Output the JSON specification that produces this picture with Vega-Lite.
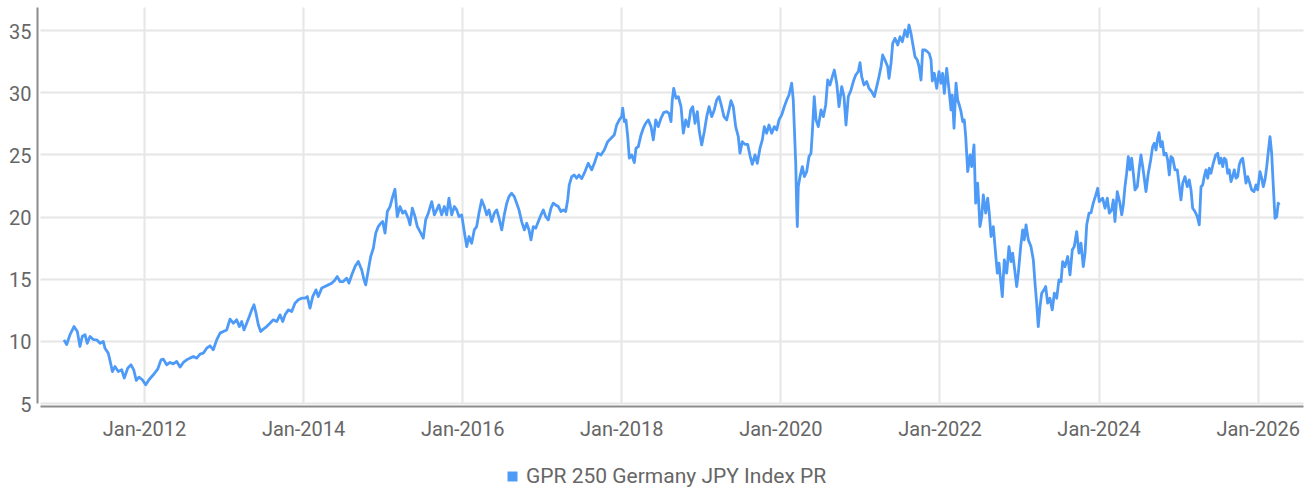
{
  "$schema": "https://vega.github.io/schema/vega-lite/v6.json",
  "width": 1263,
  "height": 396,
  "autosize": "none",
  "padding": {"left": 40, "top": 7, "right": 9, "bottom": 88},
  "background": "#ffffff",
  "config": {
    "view": {"stroke": null},
    "font": "Roboto",
    "axis": {"labelFont": "Roboto", "labelColor": "#666666", "labelFontSize": 20, "gridColor": "#e6e6e6", "gridWidth": 2, "domainColor": "#8c8c8c", "domainWidth": 2, "ticks": false, "title": null},
    "legend": {"labelFont": "Roboto", "labelColor": "#666666", "labelFontSize": 21}
  },
  "data": {"values": [
    {"t":2010.994,"v":10.08},{"t":2011.028,"v":9.7},{"t":2011.070,"v":10.5},{"t":2011.120,"v":11.15},{"t":2011.162,"v":10.75},{"t":2011.195,"v":9.55},{"t":2011.224,"v":10.35},{"t":2011.258,"v":10.5},{"t":2011.287,"v":9.8},{"t":2011.321,"v":10.35},{"t":2011.363,"v":10.1},{"t":2011.405,"v":10.08},{"t":2011.447,"v":9.8},{"t":2011.488,"v":9.95},{"t":2011.510,"v":9.4},{"t":2011.551,"v":9.0},{"t":2011.585,"v":8.07},{"t":2011.602,"v":7.53},{"t":2011.635,"v":7.93},{"t":2011.677,"v":7.53},{"t":2011.720,"v":7.67},{"t":2011.752,"v":7.0},{"t":2011.795,"v":7.8},{"t":2011.837,"v":8.07},{"t":2011.871,"v":7.67},{"t":2011.903,"v":6.81},{"t":2011.937,"v":7.08},{"t":2011.979,"v":6.87},
    {"t":2012.021,"v":6.46},{"t":2012.063,"v":6.87},{"t":2012.117,"v":7.27},{"t":2012.172,"v":7.72},{"t":2012.214,"v":8.47},{"t":2012.243,"v":8.53},{"t":2012.285,"v":8.07},{"t":2012.327,"v":8.26},{"t":2012.368,"v":8.15},{"t":2012.411,"v":8.34},{"t":2012.453,"v":7.89},{"t":2012.494,"v":8.26},{"t":2012.537,"v":8.47},{"t":2012.578,"v":8.61},{"t":2012.620,"v":8.74},{"t":2012.663,"v":8.61},{"t":2012.704,"v":8.93},{"t":2012.746,"v":9.01},{"t":2012.788,"v":9.41},{"t":2012.830,"v":9.6},{"t":2012.871,"v":9.28},{"t":2012.914,"v":10.08},{"t":2012.956,"v":10.62},{"t":2012.997,"v":10.75},
    {"t":2013.040,"v":10.88},{"t":2013.081,"v":11.75},{"t":2013.123,"v":11.42},{"t":2013.165,"v":11.69},{"t":2013.198,"v":11.15},{"t":2013.228,"v":11.55},{"t":2013.257,"v":10.88},{"t":2013.291,"v":11.42},{"t":2013.324,"v":11.96},{"t":2013.354,"v":12.49},{"t":2013.383,"v":12.9},{"t":2013.408,"v":12.23},{"t":2013.437,"v":11.29},{"t":2013.467,"v":10.75},{"t":2013.500,"v":10.94},{"t":2013.542,"v":11.15},{"t":2013.584,"v":11.42},{"t":2013.625,"v":11.69},{"t":2013.668,"v":11.55},{"t":2013.710,"v":12.09},{"t":2013.744,"v":11.55},{"t":2013.773,"v":12.09},{"t":2013.814,"v":12.49},{"t":2013.857,"v":12.36},{"t":2013.898,"v":13.03},{"t":2013.940,"v":13.3},{"t":2013.982,"v":13.43},
    {"t":2014.024,"v":13.43},{"t":2014.053,"v":13.56},{"t":2014.087,"v":12.63},{"t":2014.121,"v":13.56},{"t":2014.162,"v":14.1},{"t":2014.191,"v":13.56},{"t":2014.234,"v":14.24},{"t":2014.275,"v":14.37},{"t":2014.317,"v":14.5},{"t":2014.360,"v":14.64},{"t":2014.401,"v":14.9},{"t":2014.430,"v":15.17},{"t":2014.464,"v":14.77},{"t":2014.505,"v":14.77},{"t":2014.548,"v":15.04},{"t":2014.577,"v":14.64},{"t":2014.611,"v":15.3},{"t":2014.653,"v":15.97},{"t":2014.694,"v":16.38},{"t":2014.737,"v":15.7},{"t":2014.766,"v":14.9},{"t":2014.787,"v":14.5},{"t":2014.820,"v":15.7},{"t":2014.850,"v":16.78},{"t":2014.883,"v":17.45},{"t":2014.913,"v":18.66},{"t":2014.945,"v":19.19},{"t":2014.976,"v":19.46},
    {"t":2015.001,"v":19.59},{"t":2015.030,"v":18.66},{"t":2015.059,"v":20.4},{"t":2015.093,"v":20.8},{"t":2015.126,"v":21.6},{"t":2015.155,"v":22.19},{"t":2015.184,"v":19.99},{"t":2015.218,"v":20.8},{"t":2015.252,"v":20.27},{"t":2015.281,"v":20.45},{"t":2015.322,"v":19.86},{"t":2015.344,"v":19.33},{"t":2015.373,"v":20.67},{"t":2015.407,"v":19.99},{"t":2015.436,"v":19.19},{"t":2015.470,"v":18.79},{"t":2015.511,"v":18.26},{"t":2015.541,"v":19.73},{"t":2015.574,"v":20.27},{"t":2015.617,"v":21.2},{"t":2015.650,"v":20.13},{"t":2015.680,"v":20.53},{"t":2015.708,"v":20.93},{"t":2015.742,"v":20.13},{"t":2015.775,"v":20.8},{"t":2015.805,"v":20.13},{"t":2015.834,"v":21.47},{"t":2015.868,"v":20.13},{"t":2015.901,"v":20.8},{"t":2015.931,"v":20.53},{"t":2015.960,"v":19.99},{"t":2015.994,"v":20.13},
    {"t":2016.026,"v":18.79},{"t":2016.057,"v":17.58},{"t":2016.086,"v":18.39},{"t":2016.119,"v":17.85},{"t":2016.152,"v":18.92},{"t":2016.182,"v":19.19},{"t":2016.211,"v":20.27},{"t":2016.245,"v":21.33},{"t":2016.278,"v":20.8},{"t":2016.308,"v":20.13},{"t":2016.337,"v":20.53},{"t":2016.371,"v":19.59},{"t":2016.404,"v":20.27},{"t":2016.434,"v":20.53},{"t":2016.463,"v":19.86},{"t":2016.497,"v":18.92},{"t":2016.529,"v":20.13},{"t":2016.560,"v":21.07},{"t":2016.588,"v":21.6},{"t":2016.622,"v":21.87},{"t":2016.655,"v":21.6},{"t":2016.685,"v":21.07},{"t":2016.714,"v":20.53},{"t":2016.748,"v":19.59},{"t":2016.781,"v":18.92},{"t":2016.811,"v":19.46},{"t":2016.840,"v":18.92},{"t":2016.865,"v":18.12},{"t":2016.894,"v":19.19},{"t":2016.924,"v":19.06},{"t":2016.957,"v":19.59},{"t":2016.991,"v":20.13},
    {"t":2017.020,"v":20.53},{"t":2017.050,"v":19.99},{"t":2017.082,"v":19.73},{"t":2017.116,"v":20.67},{"t":2017.145,"v":21.07},{"t":2017.175,"v":20.93},{"t":2017.208,"v":20.8},{"t":2017.242,"v":20.4},{"t":2017.271,"v":20.53},{"t":2017.301,"v":20.4},{"t":2017.326,"v":21.33},{"t":2017.346,"v":22.54},{"t":2017.377,"v":23.21},{"t":2017.409,"v":23.34},{"t":2017.439,"v":23.08},{"t":2017.468,"v":23.34},{"t":2017.502,"v":23.05},{"t":2017.535,"v":23.48},{"t":2017.585,"v":24.28},{"t":2017.628,"v":23.75},{"t":2017.661,"v":24.28},{"t":2017.704,"v":25.09},{"t":2017.745,"v":24.95},{"t":2017.786,"v":25.35},{"t":2017.829,"v":26.02},{"t":2017.871,"v":26.29},{"t":2017.912,"v":26.56},{"t":2017.942,"v":27.36},{"t":2017.975,"v":27.77},
    {"t":2018.005,"v":28.03},{"t":2018.018,"v":28.71},{"t":2018.038,"v":27.63},{"t":2018.059,"v":27.77},{"t":2018.081,"v":26.42},{"t":2018.101,"v":24.69},{"t":2018.131,"v":24.95},{"t":2018.164,"v":24.33},{"t":2018.185,"v":25.49},{"t":2018.214,"v":25.62},{"t":2018.248,"v":26.56},{"t":2018.277,"v":27.1},{"t":2018.307,"v":27.5},{"t":2018.340,"v":27.77},{"t":2018.374,"v":27.23},{"t":2018.403,"v":26.16},{"t":2018.433,"v":27.77},{"t":2018.465,"v":27.23},{"t":2018.499,"v":27.9},{"t":2018.533,"v":28.35},{"t":2018.571,"v":28.43},{"t":2018.600,"v":28.3},{"t":2018.625,"v":27.63},{"t":2018.641,"v":29.37},{"t":2018.659,"v":30.31},{"t":2018.688,"v":29.51},{"t":2018.717,"v":29.64},{"t":2018.751,"v":28.83},{"t":2018.780,"v":26.7},{"t":2018.810,"v":27.77},{"t":2018.842,"v":27.23},{"t":2018.873,"v":28.57},{"t":2018.898,"v":28.83},{"t":2018.927,"v":27.5},{"t":2018.956,"v":28.43},{"t":2018.981,"v":26.83},
    {"t":2019.011,"v":25.76},{"t":2019.044,"v":26.83},{"t":2019.074,"v":28.03},{"t":2019.103,"v":28.83},{"t":2019.137,"v":28.03},{"t":2019.169,"v":28.57},{"t":2019.199,"v":29.37},{"t":2019.228,"v":29.64},{"t":2019.262,"v":28.83},{"t":2019.291,"v":28.03},{"t":2019.325,"v":27.77},{"t":2019.354,"v":28.57},{"t":2019.379,"v":29.32},{"t":2019.408,"v":28.83},{"t":2019.438,"v":27.23},{"t":2019.471,"v":26.42},{"t":2019.492,"v":25.09},{"t":2019.521,"v":26.02},{"t":2019.555,"v":25.8},{"t":2019.589,"v":25.8},{"t":2019.618,"v":24.9},{"t":2019.647,"v":24.2},{"t":2019.681,"v":24.95},{"t":2019.710,"v":24.28},{"t":2019.744,"v":25.49},{"t":2019.773,"v":26.16},{"t":2019.798,"v":27.23},{"t":2019.828,"v":26.7},{"t":2019.857,"v":27.36},{"t":2019.891,"v":26.7},{"t":2019.924,"v":27.23},{"t":2019.954,"v":26.96},{"t":2019.983,"v":27.77},
    {"t":2020.017,"v":28.17},{"t":2020.049,"v":28.83},{"t":2020.080,"v":29.37},{"t":2020.108,"v":29.77},{"t":2020.142,"v":30.72},{"t":2020.162,"v":29.37},{"t":2020.175,"v":27.23},{"t":2020.193,"v":24.28},{"t":2020.205,"v":20.8},{"t":2020.213,"v":19.19},{"t":2020.225,"v":22.4},{"t":2020.247,"v":23.21},{"t":2020.276,"v":24.01},{"t":2020.301,"v":23.21},{"t":2020.331,"v":23.61},{"t":2020.360,"v":24.82},{"t":2020.385,"v":25.09},{"t":2020.401,"v":26.7},{"t":2020.426,"v":29.64},{"t":2020.448,"v":27.77},{"t":2020.477,"v":27.23},{"t":2020.511,"v":28.57},{"t":2020.540,"v":28.03},{"t":2020.570,"v":28.97},{"t":2020.595,"v":30.98},{"t":2020.624,"v":30.58},{"t":2020.653,"v":31.25},{"t":2020.678,"v":31.78},{"t":2020.708,"v":30.72},{"t":2020.737,"v":28.83},{"t":2020.771,"v":30.45},{"t":2020.800,"v":29.64},{"t":2020.825,"v":27.36},{"t":2020.854,"v":29.64},{"t":2020.888,"v":30.18},{"t":2020.917,"v":30.85},{"t":2020.947,"v":31.38},{"t":2020.979,"v":31.65},
    {"t":2021.001,"v":32.37},{"t":2021.022,"v":31.25},{"t":2021.051,"v":30.58},{"t":2021.085,"v":30.85},{"t":2021.114,"v":30.31},{"t":2021.148,"v":30.04},{"t":2021.181,"v":29.64},{"t":2021.211,"v":30.45},{"t":2021.240,"v":31.25},{"t":2021.265,"v":32.05},{"t":2021.286,"v":32.99},{"t":2021.315,"v":32.59},{"t":2021.349,"v":32.05},{"t":2021.366,"v":31.12},{"t":2021.391,"v":32.32},{"t":2021.412,"v":33.93},{"t":2021.441,"v":34.33},{"t":2021.475,"v":33.79},{"t":2021.504,"v":34.46},{"t":2021.533,"v":34.06},{"t":2021.567,"v":35.0},{"t":2021.595,"v":34.46},{"t":2021.617,"v":35.4},{"t":2021.642,"v":34.73},{"t":2021.663,"v":33.93},{"t":2021.692,"v":32.86},{"t":2021.721,"v":32.59},{"t":2021.743,"v":32.05},{"t":2021.768,"v":30.98},{"t":2021.789,"v":33.39},{"t":2021.818,"v":33.4},{"t":2021.847,"v":33.26},{"t":2021.872,"v":33.1},{"t":2021.894,"v":32.59},{"t":2021.910,"v":30.9},{"t":2021.935,"v":31.52},{"t":2021.965,"v":30.31},{"t":2021.994,"v":31.65},
    {"t":2022.019,"v":30.72},{"t":2022.040,"v":31.52},{"t":2022.061,"v":29.91},{"t":2022.091,"v":31.92},{"t":2022.120,"v":30.18},{"t":2022.145,"v":28.57},{"t":2022.161,"v":29.77},{"t":2022.183,"v":27.1},{"t":2022.208,"v":30.72},{"t":2022.229,"v":29.37},{"t":2022.249,"v":28.97},{"t":2022.271,"v":28.43},{"t":2022.292,"v":27.63},{"t":2022.312,"v":27.77},{"t":2022.330,"v":26.42},{"t":2022.355,"v":23.61},{"t":2022.384,"v":24.95},{"t":2022.405,"v":24.01},{"t":2022.434,"v":25.76},{"t":2022.455,"v":21.07},{"t":2022.480,"v":22.68},{"t":2022.509,"v":19.19},{"t":2022.531,"v":19.99},{"t":2022.551,"v":21.74},{"t":2022.581,"v":20.27},{"t":2022.606,"v":21.47},{"t":2022.626,"v":20.27},{"t":2022.648,"v":18.39},{"t":2022.677,"v":19.19},{"t":2022.698,"v":17.58},{"t":2022.727,"v":15.44},{"t":2022.748,"v":16.25},{"t":2022.773,"v":14.64},{"t":2022.790,"v":13.56},{"t":2022.815,"v":16.51},{"t":2022.845,"v":15.44},{"t":2022.874,"v":17.58},{"t":2022.899,"v":16.37},{"t":2022.920,"v":17.05},{"t":2022.941,"v":15.97},{"t":2022.971,"v":14.37},{"t":2022.991,"v":15.44},
    {"t":2023.021,"v":17.58},{"t":2023.046,"v":18.92},{"t":2023.066,"v":18.12},{"t":2023.088,"v":19.33},{"t":2023.117,"v":18.12},{"t":2023.150,"v":17.58},{"t":2023.180,"v":16.51},{"t":2023.201,"v":14.64},{"t":2023.222,"v":13.03},{"t":2023.242,"v":11.15},{"t":2023.264,"v":12.76},{"t":2023.285,"v":13.83},{"t":2023.314,"v":14.1},{"t":2023.335,"v":14.37},{"t":2023.360,"v":13.03},{"t":2023.389,"v":13.43},{"t":2023.418,"v":12.49},{"t":2023.444,"v":13.83},{"t":2023.474,"v":13.43},{"t":2023.502,"v":14.9},{"t":2023.528,"v":14.77},{"t":2023.549,"v":16.37},{"t":2023.578,"v":15.97},{"t":2023.612,"v":16.78},{"t":2023.641,"v":15.3},{"t":2023.670,"v":17.32},{"t":2023.695,"v":17.58},{"t":2023.725,"v":18.79},{"t":2023.754,"v":17.05},{"t":2023.779,"v":17.85},{"t":2023.808,"v":15.97},{"t":2023.830,"v":17.05},{"t":2023.851,"v":19.33},{"t":2023.880,"v":20.27},{"t":2023.905,"v":20.3},{"t":2023.934,"v":21.1},{"t":2023.964,"v":21.7},{"t":2023.989,"v":22.27},
    {"t":2024.009,"v":21.2},{"t":2024.052,"v":21.47},{"t":2024.081,"v":20.67},{"t":2024.110,"v":21.47},{"t":2024.135,"v":20.27},{"t":2024.165,"v":20.53},{"t":2024.185,"v":21.33},{"t":2024.206,"v":19.6},{"t":2024.235,"v":22.0},{"t":2024.269,"v":21.07},{"t":2024.291,"v":20.13},{"t":2024.311,"v":20.93},{"t":2024.332,"v":22.4},{"t":2024.353,"v":23.48},{"t":2024.374,"v":24.82},{"t":2024.395,"v":23.75},{"t":2024.416,"v":24.69},{"t":2024.437,"v":23.48},{"t":2024.458,"v":22.14},{"t":2024.487,"v":22.4},{"t":2024.512,"v":23.88},{"t":2024.533,"v":24.95},{"t":2024.555,"v":24.01},{"t":2024.575,"v":23.08},{"t":2024.596,"v":22.0},{"t":2024.625,"v":23.48},{"t":2024.655,"v":24.55},{"t":2024.680,"v":25.62},{"t":2024.700,"v":25.89},{"t":2024.722,"v":25.35},{"t":2024.743,"v":26.29},{"t":2024.760,"v":26.74},{"t":2024.781,"v":25.62},{"t":2024.801,"v":26.02},{"t":2024.823,"v":24.95},{"t":2024.848,"v":25.09},{"t":2024.869,"v":24.55},{"t":2024.889,"v":23.34},{"t":2024.910,"v":24.82},{"t":2024.932,"v":24.69},{"t":2024.961,"v":23.75},{"t":2024.990,"v":23.75},
    {"t":2025.015,"v":22.4},{"t":2025.036,"v":21.33},{"t":2025.058,"v":22.68},{"t":2025.086,"v":23.21},{"t":2025.115,"v":22.4},{"t":2025.140,"v":22.94},{"t":2025.162,"v":22.14},{"t":2025.183,"v":20.67},{"t":2025.212,"v":20.4},{"t":2025.241,"v":19.99},{"t":2025.266,"v":19.33},{"t":2025.288,"v":22.4},{"t":2025.309,"v":22.54},{"t":2025.329,"v":23.21},{"t":2025.350,"v":23.75},{"t":2025.372,"v":23.08},{"t":2025.392,"v":23.88},{"t":2025.413,"v":23.48},{"t":2025.442,"v":24.28},{"t":2025.473,"v":24.95},{"t":2025.498,"v":25.09},{"t":2025.518,"v":24.28},{"t":2025.539,"v":24.69},{"t":2025.561,"v":24.01},{"t":2025.581,"v":24.69},{"t":2025.602,"v":24.55},{"t":2025.623,"v":23.48},{"t":2025.643,"v":23.75},{"t":2025.665,"v":22.81},{"t":2025.686,"v":23.21},{"t":2025.706,"v":23.75},{"t":2025.728,"v":23.08},{"t":2025.749,"v":23.21},{"t":2025.769,"v":24.15},{"t":2025.791,"v":24.55},{"t":2025.812,"v":24.69},{"t":2025.832,"v":23.75},{"t":2025.853,"v":22.68},{"t":2025.875,"v":23.21},{"t":2025.895,"v":22.81},{"t":2025.925,"v":22.14},{"t":2025.954,"v":22.0},{"t":2025.979,"v":22.54},
    {"t":2026.000,"v":22.14},{"t":2026.029,"v":23.61},{"t":2026.051,"v":23.08},{"t":2026.071,"v":22.4},{"t":2026.092,"v":22.94},{"t":2026.114,"v":24.01},{"t":2026.134,"v":25.22},{"t":2026.155,"v":26.42},{"t":2026.176,"v":25.09},{"t":2026.196,"v":22.54},{"t":2026.218,"v":19.86},{"t":2026.239,"v":19.99},{"t":2026.259,"v":21.07},{"t":2026.272,"v":20.93}
  ]},
  "mark": {"type": "line", "strokeWidth": 2.8, "interpolate": "linear", "strokeJoin": "round"},
  "encoding": {
    "x": {
      "field": "t",
      "type": "quantitative",
      "scale": {"domain": [2010.6926, 2026.570], "nice": false, "zero": false},
      "axis": {"values": [2012, 2014, 2016, 2018, 2020, 2022, 2024, 2026], "labelExpr": "'Jan-' + datum.value", "offset": 3, "labelPadding": 13, "grid": true, "domain": true}
    },
    "y": {
      "field": "v",
      "type": "quantitative",
      "scale": {"domain": [5, 36.85], "nice": false, "zero": false},
      "axis": {"values": [5, 10, 15, 20, 25, 30, 35], "offset": 3, "labelPadding": 6, "labelOffset": 2, "grid": true, "domain": true}
    },
    "color": {
      "datum": "GPR 250 Germany JPY Index PR",
      "type": "nominal",
      "scale": {"range": ["#4e9af7"]},
      "legend": {"title": null, "orient": "none", "legendX": 462, "legendY": 459, "symbolType": "square", "symbolSize": 100, "symbolFillColor": "#4e9af7", "symbolStrokeColor": "#4e9af7", "symbolStrokeWidth": 0, "symbolOpacity": 1, "labelOffset": 3, "labelLimit": 0}
    }
  }
}
